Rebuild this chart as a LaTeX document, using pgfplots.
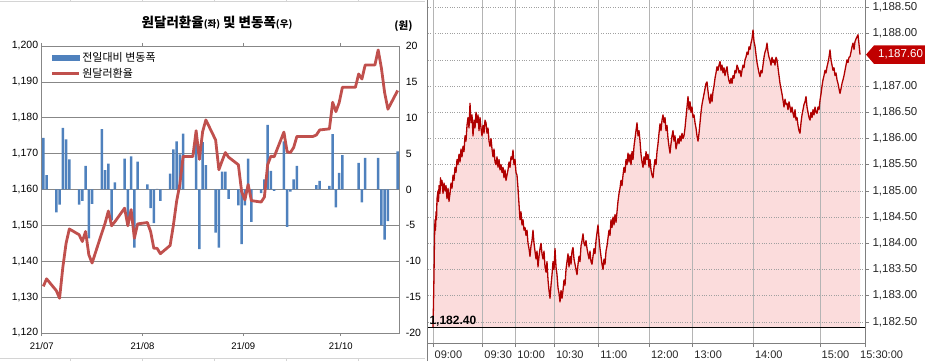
\documentclass[border=0pt]{standalone}
\usepackage{pgfplots}
\pgfplotsset{compat=1.18}
\usepackage{pgfplotstable}
\usepackage{fontspec}
\setmainfont{Liberation Sans}
\newfontfamily\kr{Noto Sans CJK KR}

\definecolor{barblue}{HTML}{4F81BD}
\definecolor{linered}{HTML}{C0504D}
\definecolor{gridgray}{HTML}{878787}
\definecolor{cellgray}{HTML}{D4D4D4}
\definecolor{vgrid}{HTML}{B4B4B4}
\definecolor{hgrid}{HTML}{A0A0A0}
\definecolor{axgray}{HTML}{7F7F7F}
\definecolor{pricered}{HTML}{B00000}
\definecolor{pinkfill}{HTML}{FBDCDC}
\definecolor{markred}{HTML}{C00000}

\pgfplotstableread{
day rate
0 1133.0
1 1135.1
4 1131.8
5 1129.7
6 1138.3
7 1145.0
8 1149.0
11 1147.4
12 1145.5
13 1148.3
14 1141.8
15 1139.5
18 1147.9
19 1150.6
20 1154.0
21 1149.9
22 1151.0
25 1154.8
26 1149.9
27 1154.4
28 1146.4
29 1150.4
32 1150.8
33 1148.3
34 1143.6
35 1143.6
36 1142.1
39 1144.4
40 1150.0
41 1156.7
42 1161.5
43 1169.2
46 1169.2
47 1176.4
48 1168.4
49 1176.1
50 1179.4
53 1173.8
54 1165.5
55 1168.0
56 1170.3
57 1169.0
60 1166.9
61 1159.4
62 1157.1
63 1161.4
64 1156.9
67 1156.5
68 1157.9
69 1166.9
70 1169.3
71 1169.1
74 1176.0
75 1170.5
76 1170.3
77 1171.7
78 1174.8
83 1174.8
84 1175.2
85 1176.6
88 1176.9
89 1184.3
90 1181.7
91 1184.2
92 1188.5
95 1188.5
96 1188.5
97 1192.2
98 1190.8
99 1194.7
102 1194.7
103 1198.9
104 1193.8
105 1186.9
106 1182.4
109 1187.6
}\ratetable

\pgfplotstableread{
day chg
0 7.2
1 2.0
4 -3.2
5 -2.1
6 8.6
7 7.0
8 4.2
11 -2.1
12 -1.6
13 3.3
14 -6.8
15 -2.0
18 8.4
19 2.7
20 3.6
21 -4.3
22 1.0
25 4.3
26 -5.0
27 4.6
28 -8.1
29 3.9
32 0.7
33 -2.6
34 -4.7
35 0.1
36 -1.6
39 2.2
40 5.6
41 6.7
42 4.9
43 7.8
47 7.2
48 -8.3
49 6.6
50 3.4
53 -6.0
54 -8.1
55 2.5
56 2.5
57 -1.3
60 -2.2
61 -7.6
62 -2.2
63 4.3
64 -4.5
67 -0.5
68 1.4
69 9.0
70 2.6
71 -0.2
74 6.7
75 -5.2
76 -0.3
77 1.4
78 3.3
84 0.6
85 1.2
88 0.5
89 7.7
90 -2.5
91 2.3
92 4.8
97 3.7
98 -1.8
99 4.4
103 4.4
104 -5.0
105 -7.0
106 -4.4
109 5.3
}\chgtable

\pgfplotstableread[row sep=\\]{
t p\\
0 1182.40\\ 0.5 1182.85\\ 1 1183.40\\ 1.5 1184.10\\ 2 1184.45\\ 2.5 1184.25\\ 3 1184.60\\ 3.5 1184.45\\ 4 1184.85\\ 5 1185.00\\
5.5 1184.80\\ 6 1185.10\\ 7 1184.95\\ 7.5 1185.25\\ 8 1185.10\\ 9 1185.20\\ 10 1184.95\\ 11 1185.15\\ 12 1185.00\\ 13 1185.10\\
14 1184.85\\ 15 1185.05\\ 16 1184.80\\ 17 1184.95\\ 18 1185.15\\ 19 1185.05\\ 20 1185.30\\ 21 1185.20\\ 22 1185.45\\ 23 1185.35\\
24 1185.60\\ 25 1185.50\\ 26 1185.70\\ 27 1185.55\\ 28 1185.80\\ 29 1185.65\\ 30 1185.85\\ 31 1185.75\\ 32 1186.05\\ 33 1185.95\\
34 1186.25\\ 35 1186.40\\ 36 1186.20\\ 37 1186.67\\ 38 1186.30\\ 39 1186.45\\ 40 1186.05\\ 41 1186.35\\ 42 1186.20\\ 43 1186.50\\
44 1186.30\\ 45 1186.45\\ 46 1186.15\\ 47 1186.40\\ 48 1186.20\\ 49 1186.05\\ 50 1186.25\\ 51 1186.10\\ 52 1186.35\\ 53 1186.30\\
54 1186.10\\ 55 1186.20\\ 56 1185.95\\ 57 1185.85\\ 58 1186.00\\ 59 1185.80\\ 60 1185.65\\ 61 1185.80\\ 62 1185.55\\ 63 1185.50\\
64 1185.65\\ 65 1185.45\\ 66 1185.60\\ 67 1185.40\\ 68 1185.50\\ 69 1185.35\\ 70 1185.45\\ 71 1185.25\\ 72 1185.40\\ 73 1185.20\\
74 1185.30\\ 75 1185.40\\ 76 1185.55\\ 77 1185.45\\ 78 1185.65\\ 79 1185.60\\ 80 1185.78\\ 81 1185.50\\ 82 1185.60\\ 83 1185.35\\
84 1185.30\\ 85 1185.05\\ 86 1184.75\\ 87 1184.45\\ 88 1184.60\\ 89 1184.35\\ 90 1184.45\\ 91 1184.25\\ 92 1184.30\\ 93 1184.15\\
94 1184.25\\ 95 1184.00\\ 96 1183.90\\ 97 1183.75\\ 98 1183.95\\ 99 1184.05\\ 100 1184.25\\ 101 1184.00\\ 102 1183.85\\ 103 1183.70\\
104 1183.85\\ 105 1183.55\\ 106 1183.75\\ 107 1183.90\\ 108 1184.00\\ 109 1183.80\\ 110 1183.70\\ 111 1183.85\\ 112 1183.55\\ 113 1183.45\\
114 1183.65\\ 115 1183.30\\ 116 1183.10\\ 117 1182.95\\ 118 1183.20\\ 119 1183.40\\ 120 1183.65\\ 121 1183.50\\ 122 1183.90\\ 123 1183.55\\
124 1183.40\\ 125 1183.15\\ 126 1183.05\\ 127 1182.88\\ 128 1183.10\\ 129 1182.95\\ 130 1183.10\\ 131 1183.30\\ 132 1183.20\\ 133 1183.50\\
134 1183.65\\ 135 1183.80\\ 136 1183.55\\ 137 1183.75\\ 138 1183.60\\ 139 1183.85\\ 140 1183.92\\ 141 1183.70\\ 142 1183.60\\ 143 1183.50\\
144 1183.40\\ 145 1183.60\\ 146 1183.75\\ 147 1183.65\\ 148 1183.95\\ 149 1184.05\\ 150 1184.18\\ 151 1184.00\\ 152 1183.95\\ 153 1184.05\\
154 1183.90\\ 155 1183.80\\ 156 1183.70\\ 157 1183.85\\ 158 1183.65\\ 159 1183.60\\ 160 1183.75\\ 161 1183.90\\ 162 1183.80\\ 163 1184.05\\
164 1184.20\\ 165 1184.35\\ 166 1184.10\\ 167 1183.90\\ 168 1183.75\\ 169 1183.60\\ 170 1183.50\\ 171 1183.70\\ 172 1183.60\\ 173 1183.85\\
174 1183.95\\ 175 1184.10\\ 176 1184.25\\ 177 1184.15\\ 178 1184.45\\ 179 1184.30\\ 180 1184.50\\ 181 1184.35\\ 182 1184.55\\ 183 1184.40\\
184 1184.60\\ 185 1184.80\\ 186 1184.95\\ 187 1185.05\\ 188 1185.20\\ 189 1185.10\\ 190 1185.30\\ 191 1185.45\\ 192 1185.35\\ 193 1185.60\\
194 1185.50\\ 195 1185.72\\ 196 1185.55\\ 197 1185.70\\ 198 1185.50\\ 199 1185.75\\ 200 1185.60\\ 201 1185.85\\ 202 1186.00\\ 203 1186.15\\
204 1186.30\\ 205 1186.05\\ 206 1186.15\\ 207 1185.95\\ 208 1185.70\\ 209 1185.55\\ 210 1185.45\\ 211 1185.65\\ 212 1185.50\\ 213 1185.75\\
214 1185.60\\ 215 1185.70\\ 216 1185.45\\ 217 1185.60\\ 218 1185.40\\ 219 1185.30\\ 220 1185.25\\ 221 1185.45\\ 222 1185.60\\ 223 1185.50\\
224 1185.75\\ 225 1185.90\\ 226 1186.10\\ 227 1186.28\\ 228 1186.15\\ 229 1186.35\\ 230 1186.45\\ 231 1186.30\\ 232 1186.40\\ 233 1186.15\\
234 1186.25\\ 235 1186.00\\ 236 1185.85\\ 237 1185.72\\ 238 1185.90\\ 239 1186.05\\ 240 1186.15\\ 241 1185.95\\ 242 1186.05\\ 243 1185.80\\
244 1185.90\\ 245 1186.00\\ 246 1185.90\\ 247 1186.05\\ 248 1185.95\\ 249 1186.10\\ 250 1186.00\\ 251 1186.05\\ 252 1186.20\\ 253 1186.40\\
254 1186.60\\ 255 1186.80\\ 256 1186.55\\ 257 1186.70\\ 258 1186.50\\ 259 1186.60\\ 260 1186.40\\ 261 1186.45\\ 262 1186.30\\ 263 1186.20\\
264 1186.05\\ 265 1185.95\\ 266 1186.10\\ 267 1186.30\\ 268 1186.50\\ 269 1186.65\\ 270 1186.75\\ 271 1186.85\\ 272 1186.95\\ 273 1187.05\\
274 1187.08\\ 275 1186.90\\ 276 1186.75\\ 277 1186.67\\ 278 1186.85\\ 279 1186.70\\ 280 1186.90\\ 281 1187.00\\ 282 1187.15\\ 283 1187.25\\
284 1187.37\\ 285 1187.30\\ 286 1187.40\\ 287 1187.47\\ 288 1187.30\\ 289 1187.40\\ 290 1187.25\\ 291 1187.35\\ 292 1187.20\\ 293 1187.30\\
294 1187.37\\ 295 1187.20\\ 296 1187.10\\ 297 1187.05\\ 298 1187.15\\ 299 1187.05\\ 300 1187.20\\ 301 1187.15\\ 302 1187.30\\ 303 1187.25\\
304 1187.40\\ 305 1187.35\\ 306 1187.25\\ 307 1187.30\\ 308 1187.18\\ 309 1187.30\\ 310 1187.40\\ 311 1187.35\\ 312 1187.50\\ 313 1187.55\\
314 1187.65\\ 315 1187.60\\ 316 1187.75\\ 317 1187.70\\ 318 1187.82\\ 319 1187.90\\ 320 1188.07\\ 321 1187.85\\ 322 1187.76\\ 323 1187.60\\
324 1187.45\\ 325 1187.35\\ 326 1187.25\\ 327 1187.18\\ 328 1187.30\\ 329 1187.25\\ 330 1187.40\\ 331 1187.55\\ 332 1187.65\\ 333 1187.70\\
334 1187.82\\ 335 1187.65\\ 336 1187.55\\ 337 1187.50\\ 338 1187.40\\ 339 1187.55\\ 340 1187.45\\ 341 1187.50\\ 342 1187.40\\ 343 1187.55\\
344 1187.50\\ 345 1187.35\\ 346 1187.20\\ 347 1187.05\\ 348 1186.95\\ 349 1186.85\\ 350 1186.73\\ 351 1186.60\\ 352 1186.75\\ 353 1186.65\\
354 1186.67\\ 355 1186.55\\ 356 1186.70\\ 357 1186.60\\ 358 1186.50\\ 359 1186.60\\ 360 1186.48\\ 361 1186.40\\ 362 1186.55\\ 363 1186.35\\
364 1186.40\\ 365 1186.25\\ 366 1186.15\\ 367 1186.10\\ 368 1186.30\\ 369 1186.45\\ 370 1186.55\\ 371 1186.65\\ 372 1186.70\\ 373 1186.80\\
374 1186.60\\ 375 1186.50\\ 376 1186.40\\ 377 1186.35\\ 378 1186.50\\ 379 1186.40\\ 380 1186.55\\ 381 1186.45\\ 382 1186.60\\ 383 1186.50\\
384 1186.48\\ 385 1186.60\\ 386 1186.55\\ 387 1186.73\\ 388 1186.85\\ 389 1187.00\\ 390 1187.12\\ 391 1187.20\\ 392 1187.30\\ 393 1187.25\\
394 1187.37\\ 395 1187.45\\ 396 1187.55\\ 397 1187.69\\ 398 1187.50\\ 399 1187.40\\ 400 1187.30\\ 401 1187.35\\ 402 1187.20\\ 403 1187.25\\
404 1187.12\\ 405 1187.05\\ 406 1186.95\\ 407 1186.86\\ 408 1186.95\\ 409 1187.05\\ 410 1187.12\\ 411 1187.20\\ 412 1187.30\\ 413 1187.40\\
414 1187.50\\ 415 1187.45\\ 416 1187.55\\ 417 1187.56\\ 418 1187.65\\ 419 1187.75\\ 420 1187.82\\ 421 1187.70\\ 422 1187.85\\ 423 1187.90\\
424 1187.94\\ 425 1187.98\\ 426 1187.80\\ 427 1187.60\\
}\intraday

\begin{document}
\begin{tikzpicture}
\useasboundingbox (0pt,0pt) rectangle (925pt,361pt);
% spreadsheet cell borders
\draw[cellgray, line width=0.6pt] (0pt,3pt) -- (425pt,3pt);
\draw[cellgray, line width=0.6pt] (0pt,360pt) -- (425pt,360pt);
\foreach \xx in {70.7,142.7,214.3,286,358.3} {
  \draw[cellgray, line width=0.6pt] (\xx pt,0pt) -- (\xx pt,3pt);
  \draw[cellgray, line width=0.6pt] (\xx pt,360pt) -- (\xx pt,361pt);
}

% ---------- left: daily change bars (right axis) ----------
\begin{axis}[
  at={(41.7pt,28pt)}, anchor=south west,
  scale only axis, width=357.6pt, height=287pt,
  xmin=-0.5, xmax=109.5, ymin=-20, ymax=20,
  ytick={-20,-15,...,20},
  yticklabel pos=right,
  xtick={-0.5,30.5,61.5,91.5},
  xticklabels={21/07,21/08,21/09,21/10},
  ymajorgrids,
  grid style={gridgray, line width=0.7pt},
  axis line style={gridgray, line width=0.7pt},
  ytick style={draw=none},
  xtick style={gridgray, line width=0.7pt},
  tick align=outside, major tick length=3pt,
  x tick label style={font=\fontsize{9.5}{11}\selectfont, yshift=-3pt},
  y tick label style={font=\fontsize{10.5}{12}\selectfont},
  /pgf/number format/assume math mode=true,
  ybar, bar width=2.5pt,
]
\addplot[fill=barblue, draw=none] table[x=day, y=chg] {\chgtable};
\end{axis}

% ---------- left: exchange rate line (left axis) ----------
\begin{axis}[
  at={(41.7pt,28pt)}, anchor=south west,
  scale only axis, width=357.6pt, height=287pt,
  xmin=-0.5, xmax=109.5, ymin=1120, ymax=1200,
  ytick={1120,1130,...,1200},
  xtick=\empty,
  axis line style={draw=none},
  ytick style={draw=none},
  y tick label style={font=\fontsize{10.5}{12}\selectfont},
  /pgf/number format/1000 sep={,},
  /pgf/number format/assume math mode=true,
  legend cell align=left,
  legend style={at={(0.025,0.985)}, anchor=north west, draw=none, fill=none,
    inner sep=0pt, row sep=1pt, font=\kr\fontsize{11}{13}\selectfont},
]
\addlegendimage{legend image code/.code={\fill[barblue] (0pt,-2.7pt) rectangle (26.7pt,2.7pt);}}
\addlegendentry{전일대비 변동폭}
\addplot[linered, line width=2.8pt, line join=round,
  legend image code/.code={\draw[linered, line width=2.8pt] (0pt,0pt) -- (26.7pt,0pt);}]
  table[x=day, y=rate] {\ratetable};
\addlegendentry{원달러환율}
\end{axis}

\node[font=\kr\bfseries\fontsize{13.5}{16}\selectfont] at (217pt,338pt)
  {원달러환율{\fontsize{9.5}{11}\selectfont(좌)} 및 변동폭{\fontsize{9.5}{11}\selectfont(우)}};
\node[font=\kr\bfseries\fontsize{10.5}{12}\selectfont] at (403.5pt,335pt) {(원)};

% ---------- right: intraday fill with dotted grid on top ----------
\begin{axis}[
  at={(428pt,18pt)}, anchor=south west,
  scale only axis, width=437pt, height=343pt,
  xmin=-5, xmax=432, ymin=1182.097, ymax=1188.643,
  axis on top,
  axis line style={draw=none}, xtick=\empty,
  ytick={1182.5,1183,...,1188.5}, yticklabels={},
  ytick style={draw=none},
  ymajorgrids, grid style={hgrid, dotted, line width=0.7pt},
]
\addplot[fill=pinkfill, draw=none] table[x=t, y=p] {\intraday}
  -- (axis cs:427,1182.4) -- cycle;
\end{axis}

% ---------- right: line, ticks, labels ----------
\begin{axis}[
  at={(428pt,18pt)}, anchor=south west,
  scale only axis, width=437pt, height=343pt,
  xmin=-5, xmax=432, ymin=1182.097, ymax=1188.643,
  axis x line*=bottom, axis y line*=right,
  axis line style={axgray, line width=0.8pt, -},
  xtick={0,49.7,82.7,121.3,165.7,216.3,259.7,320.3,387,432},
  xticklabels={09:00,09:30,10:00,10:30,11:00,12:00,13:00,14:00,15:00,\hspace*{-6.5pt}15:30:00},
  xmajorgrids, grid style={vgrid, line width=0.7pt},
  ytick={1182.5,1183,...,1188.5},
  yticklabels={{1,182.50},{1,183.00},{1,183.50},{1,184.00},{1,184.50},{1,185.00},{1,185.50},{1,186.00},{1,186.50},{1,187.00},{},{1,188.00},{1,188.50}},
  minor y tick num=1,
  tick align=outside, major tick length=4pt, minor tick length=2.5pt,
  tick style={axgray, line width=0.7pt},
  x tick label style={font=\fontsize{11}{13}\selectfont, text=black!85, anchor=north west, inner xsep=0pt, xshift=1.5pt},
  y tick label style={font=\fontsize{11.5}{13}\selectfont, text=black!85, anchor=west},
  clip=false,
]
\addplot[pricered, line width=1.3pt, line join=round] table[x=t, y=p] {\intraday};
\addplot[black, line width=0.9pt] coordinates {(-5,1182.4) (432,1182.4)};
\node[anchor=base west, inner sep=0pt, font=\bfseries\fontsize{12}{14}\selectfont]
  at ([yshift=2.5pt]axis cs:-3.7,1182.4) {1,182.40};
\fill[markred] (axis cs:432,1187.6) ++(1pt,0pt) -- ++(8pt,9.2pt) -- ++(52pt,0pt)
  -- ++(0pt,-18.4pt) -- ++(-52pt,0pt) -- cycle;
\node[anchor=west, inner sep=0pt, text=white, font=\fontsize{11.5}{13}\selectfont]
  at ([xshift=13pt]axis cs:432,1187.6) {1,187.60};
\end{axis}

\draw[axgray, line width=0.8pt] (427.5pt,0pt) -- (427.5pt,361pt);
\end{tikzpicture}
\end{document}
